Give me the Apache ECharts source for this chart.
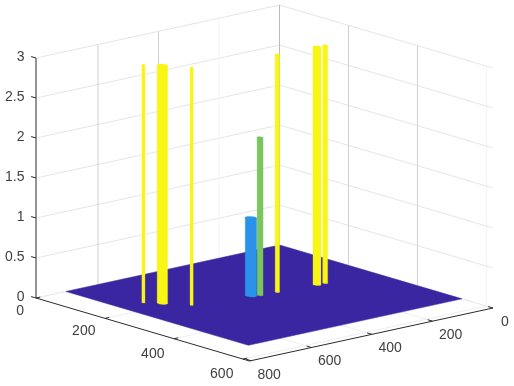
<!DOCTYPE html>
<html>
<head>
<meta charset="utf-8">
<style>html,body{margin:0;padding:0;background:#fff}#c{width:514px;height:386px}</style>
<script src="https://cdn.jsdelivr.net/npm/echarts@6/dist/echarts.min.js"></script>
</head>
<body>
<div id="c"></div>
<script>
// ---- data ----
var aTicks = [0, 200, 400, 600];
var bTicks = [0, 200, 400, 600, 800];
var zTicks = [0, 0.5, 1, 1.5, 2, 2.5, 3];
var zLabels = ['0', '0.5', '1', '1.5', '2', '2.5', '3'];
var aLimit = 619, bLimit = 805, zLimit = 3;
var surfaceA = 529, surfaceB = 706;
var columnA = [158, 184, 231, 250.5, 259, 263, 269.5, 271];
var columnB = [630, 597, 554, 380, 359.5, 307, 183.4, 158];
var columnZ = [2.97, 2.97, 2.97, 0.97, 1.97, 2.97, 2.97, 2.97];
var columnR = [3.4, 11.4, 3.4, 12.5, 6.5, 4.8, 8.7, 5.4];

// ---- view (orthographic projection of the 3-D box) ----
var O = [279.5, 245], AV = [213.5, 63], BV = [-243.5, 53], ZV = 80;
function P(a, b, z) {
  return [O[0] + a / aLimit * AV[0] + b / bLimit * BV[0],
          O[1] + a / aLimit * AV[1] + b / bLimit * BV[1] - z * ZV];
}
function parula(z) {
  return z >= 2.5 ? '#f9f514' : z >= 1.5 ? '#78c65c' : z >= 0.5 ? '#2a92ea' : '#3a26a0';
}
function line(p, q, color, w) {
  return {type: 'line', shape: {x1: p[0], y1: p[1], x2: q[0], y2: q[1]},
          style: {stroke: color, lineWidth: w || 1}, silent: true};
}
function label(p, s, align) {
  return {type: 'text', x: p[0], y: p[1], silent: true,
          style: {text: s, fill: '#404040', font: '14px "Liberation Sans"', textAlign: align, textVerticalAlign: 'middle'}};
}

function walls() {
  var c = [];
  var wall = '#e6e6e6', vert = '#d0d0d0', faint = '#f3f3f3';
  zTicks.forEach(function (z) {
    c.push(line(P(0, bLimit, z), P(0, 0, z), wall));
    c.push(line(P(0, 0, z), P(aLimit, 0, z), wall));
  });
  aTicks.forEach(function (a, i) {
    if (a === 0) return;
    c.push(line(P(a, 0, 0), P(a, 0, zLimit), i === 3 ? faint : vert));
    c.push(line(P(a, 0, 0), P(a, bLimit, 0), '#efefef'));
  });
  bTicks.forEach(function (b, i) {
    if (b === 0 || b === 800) return;
    c.push(line(P(0, b, 0), P(0, b, zLimit), i === 1 ? faint : vert));
    c.push(line(P(0, b, 0), P(aLimit, b, 0), '#efefef'));
  });
  c.push(line(P(0, 0, 0), P(0, 0, zLimit), '#bbbbbb'));
  return c;
}
function axes() {
  var c = [], ink = '#2b2b2b';
  c.push(line(P(0, bLimit, 0), P(0, bLimit, zLimit), ink));
  c.push(line(P(0, bLimit, 0), P(aLimit, bLimit, 0), ink));
  c.push(line(P(aLimit, 0, 0), P(aLimit, bLimit, 0), ink));
  zTicks.forEach(function (z, i) {
    var p = P(0, bLimit, z), q = P(-14, bLimit, z);
    c.push(line(p, q, ink));
    c.push(label([24.5, p[1] - 0.5], zLabels[i], 'right'));
  });
  aTicks.forEach(function (a) {
    var p = P(a, bLimit, 0);
    c.push(line(p, P(a, bLimit - 14, 0), ink));
    c.push(label([p[0] - (a === 0 ? 12 : 9.5), p[1] + 12.5 + (a > 200 ? 2.5 : a === 0 ? 0.7 : 0)], String(a), 'right'));
  });
  bTicks.forEach(function (b) {
    var p = P(aLimit, b, 0);
    c.push(line(p, P(aLimit - 14, b, 0), ink));
    c.push(label([p[0] + (b === 0 ? 8 : 6.5), p[1] + 14], String(b), 'left'));
  });
  return c;
}
function column(a, b, z, r) {
  var base = [], top = [], i, t, lo = 0, hi = 0;
  for (i = 0; i < 32; i++) {
    t = i / 32 * Math.PI * 2;
    base.push(P(a + r * Math.cos(t), b + r * Math.sin(t), 0));
    top.push(P(a + r * Math.cos(t), b + r * Math.sin(t), z));
    if (base[i][0] < base[lo][0]) lo = i;
    if (base[i][0] > base[hi][0]) hi = i;
  }
  var color = parula(z), s = {fill: color, stroke: color, lineWidth: 0.3};
  return {type: 'group', children: [
    {type: 'polygon', shape: {points: base}, style: s},
    {type: 'polygon', shape: {points: [base[lo], base[hi], top[hi], top[lo]]}, style: s},
    {type: 'polygon', shape: {points: top}, style: s}
  ]};
}

var order = columnA.map(function (_, i) { return i; })
  .sort(function (p, q) { return (columnA[p] + columnB[p]) - (columnA[q] + columnB[q]); });

var chart = echarts.init(document.getElementById('c'), null, {renderer: 'canvas', width: 514, height: 386});
chart.setOption({
  animation: false,
  backgroundColor: '#ffffff',
  series: [
    {type: 'custom', coordinateSystem: 'none', silent: true, z: 1, data: [0],
     renderItem: function () { return {type: 'group', children: walls()}; }},
    {type: 'custom', coordinateSystem: 'none', silent: true, z: 2, data: [[surfaceA, surfaceB]],
     renderItem: function (params, api) {
       var sa = api.value(0), sb = api.value(1), col = parula(0);
       return {type: 'polygon', shape: {points: [P(0, 0, 0), P(sa, 0, 0), P(sa, sb, 0), P(0, sb, 0)]},
               style: {fill: col, stroke: col, lineWidth: 0.5}};
     }},
    {type: 'custom', coordinateSystem: 'none', silent: true, z: 3,
     data: order.map(function (i) { return [columnA[i], columnB[i], columnZ[i], columnR[i]]; }),
     renderItem: function (params, api) {
       return column(api.value(0), api.value(1), api.value(2), api.value(3));
     }},
    {type: 'custom', coordinateSystem: 'none', silent: true, z: 4, data: [0],
     renderItem: function () { return {type: 'group', children: axes()}; }}
  ]
});
</script>
</body>
</html>
